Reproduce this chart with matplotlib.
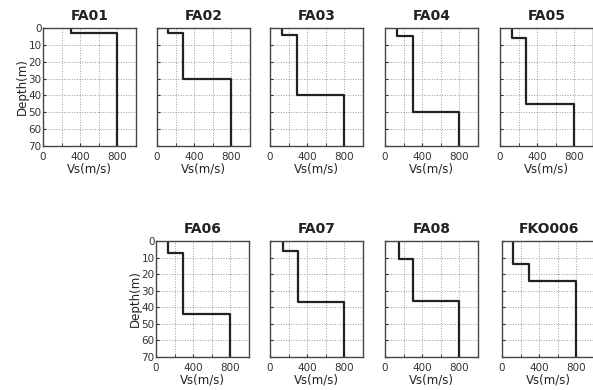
import numpy as np
import matplotlib.pyplot as plt

# site names
sites = ['FA01', 'FA02', 'FA03', 'FA04', 'FA05', 'FA06', 'FA07', 'FA08', 'FKO006']

# shear wave velocity of each layer (m/s)
vs_fa01 = [300, 800]
vs_fa02 = [120, 280, 800]
vs_fa03 = [126, 295, 800]
vs_fa04 = [128, 300, 800]
vs_fa05 = [128, 280, 800]
vs_fa06 = [125, 290, 800]
vs_fa07 = [136, 300, 800]
vs_fa08 = [150, 305, 800]
vs_fko006 = [118, 290, 800]

# depth of bottom of each layer (m), last layer goes to bottom
depth_fa01 = [3, 70]
depth_fa02 = [3, 30, 70]
depth_fa03 = [4, 40, 70]
depth_fa04 = [5, 50, 70]
depth_fa05 = [6, 45, 70]
depth_fa06 = [7, 44, 70]
depth_fa07 = [6, 37, 70]
depth_fa08 = [11, 36, 70]
depth_fko006 = [14, 24, 70]

vs_list = [vs_fa01, vs_fa02, vs_fa03, vs_fa04, vs_fa05,
           vs_fa06, vs_fa07, vs_fa08, vs_fko006]
depth_list = [depth_fa01, depth_fa02, depth_fa03, depth_fa04, depth_fa05,
              depth_fa06, depth_fa07, depth_fa08, depth_fko006]

x_ticks = [0, 400, 800]
y_ticks = [0, 10, 20, 30, 40, 50, 60, 70]


def profile_xy(vs, depths):
    """Builds step line coordinates for a layered profile"""
    xs = []
    ys = []
    top = 0
    for v, d in zip(vs, depths):
        xs.append(v)
        ys.append(top)
        xs.append(v)
        ys.append(d)
        top = d
    return np.array(xs), np.array(ys)


fig = plt.figure(figsize=(5.93, 3.90), dpi=100)

W = 593.0
H = 390.0
top_lefts = [43, 157, 270, 385, 500]
bot_lefts = [156, 270, 385, 502]
lefts = top_lefts + bot_lefts
rows = [0] * 5 + [1] * 4

for i, name in enumerate(sites):
    if rows[i] == 0:
        rect = [lefts[i] / W, 1 - 146 / H, 93 / W, 118 / H]
    else:
        rect = [lefts[i] / W, 1 - 357 / H, 93 / W, 116 / H]
    ax = fig.add_axes(rect)
    xs, ys = profile_xy(vs_list[i], depth_list[i])
    ax.plot(xs, ys, color='#222222', linewidth=1.6)
    ax.set_xlim(0, 1000)
    ax.set_ylim(70, 0)
    ax.set_xticks(x_ticks)
    ax.set_xticks([200, 600], minor=True)
    ax.set_yticks(y_ticks)
    ax.grid(True, which='both', linestyle=':', color='#999999', linewidth=0.7)
    ax.tick_params(which='both', direction='in', length=2, labelsize=7.5,
                   colors='#333333', pad=4)
    ax.set_title(name, fontsize=10, fontweight='bold', pad=6, color='#222222')
    ax.set_xlabel('Vs(m/s)', fontsize=8.5, labelpad=1, color='#222222')
    for s in ax.spines.values():
        s.set_color('#444444')
        s.set_linewidth(1.0)
    if i == 0 or i == 5:
        ax.set_ylabel('Depth(m)', fontsize=8.5, labelpad=0, color='#222222')
        ax.tick_params(axis='y', pad=1)
    else:
        ax.set_yticklabels([])

plt.savefig('out.png', dpi=100)
